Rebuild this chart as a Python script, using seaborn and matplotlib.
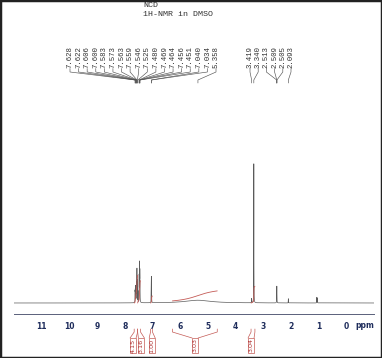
import numpy as np
import pandas as pd
import matplotlib
matplotlib.use("Agg")
import matplotlib.pyplot as plt
import seaborn as sns
from matplotlib.patches import Rectangle
from matplotlib.ticker import MultipleLocator

# ---------------- data ----------------
title = "NCD"
subtitle = "1H-NMR in DMSO"

# labelled peaks, left group (aromatic + broad)
left_ppm = [7.628, 7.622, 7.606, 7.600, 7.583, 7.573, 7.563, 7.559, 7.546,
            7.525, 7.480, 7.469, 7.464, 7.456, 7.451, 7.040, 7.034, 5.358]
left_height = [0.07, 0.08, 0.10, 0.09, 0.08, 0.12, 0.16, 0.17, 0.15,
               0.08, 0.18, 0.22, 0.20, 0.17, 0.14, 0.16, 0.15, 0.02]
left_hwhm = [0.003] * 17 + [0.55]

# labelled peaks, right group
right_ppm = [3.419, 3.340, 2.513, 2.509, 2.505, 2.093]
right_height = [0.03, 1.00, 0.04, 0.09, 0.045, 0.03]
right_hwhm = [0.003] * 6

# unlabelled small peaks
extra_ppm = [1.065, 1.045]
extra_height = [0.04, 0.035]
extra_hwhm = [0.003, 0.003]

# integrals
int_start = [7.66, 7.535, 7.07, 6.28, 3.44]
int_end = [7.535, 7.43, 7.00, 4.66, 3.30]
int_value = ["4.15", "3.16", "1.00", "3.03", "3.04"]
int_rise = [0.20, 0.16, 0.05, 0.072, 0.12]   # drawn height of each integral curve
int_base = [0.0, 0.0, 0.0, 0.015, 0.0]

# ---------------- build spectrum ----------------
all_ppm = np.array(left_ppm + right_ppm + extra_ppm)
all_h = np.array(left_height + right_height + extra_height)
all_w = np.array(left_hwhm + right_hwhm + extra_hwhm)

grid = np.arange(-1.0, 12.0, 0.0005)
spec = np.zeros_like(grid)
for p, h, w in zip(all_ppm, all_h, all_w):
    spec += h * w**2 / ((grid - p) ** 2 + w**2)
df = pd.DataFrame({"ppm": grid, "intensity": spec})

# ---------------- figure ----------------
sns.set_style("white")
plt.rcParams["font.family"] = ["DejaVu Sans"]

W, H = 382, 358
fig = plt.figure(figsize=(W / 100, H / 100), dpi=100)
fig.patch.set_facecolor("white")

ax_l = 14 / W
ax_w = 360 / W
ax = fig.add_axes([ax_l, (H - 314) / H, ax_w, 214 / H])
sns.lineplot(data=df, x="ppm", y="intensity", ax=ax, color="#5a5a5a",
             linewidth=0.5, estimator=None, sort=False)
ax.set_xlim(12, -1)
ax.set_ylim(-11 / 139, 203 / 139)
ax.set_xlabel("")
ax.set_ylabel("")
ax.set_yticks([])
for s in ["left", "top", "right"]:
    ax.spines[s].set_visible(False)
ax.spines["bottom"].set_color("#59607a")
ax.spines["bottom"].set_linewidth(0.7)

# integral curves
for a, b, r, base in zip(int_start, int_end, int_rise, int_base):
    m = (grid <= a) & (grid >= b)
    g = grid[m][::-1]
    s = spec[m][::-1]
    c = np.cumsum(s)
    c = c / c[-1]
    ax.plot(g, base + r * c, color="#c45a55", linewidth=0.6)

ticks = list(range(-1, 13))
ax.set_xticks(ticks)
ax.set_xticklabels(["" if t in (-1, 12) else str(t) for t in ticks])
ax.xaxis.set_minor_locator(MultipleLocator(0.1))
ax.tick_params(axis="x", which="major", length=3.5, width=0.6, color="#59607a",
               labelsize=5.5, labelcolor="#1f2d5c", pad=2.5)
ax.tick_params(axis="x", which="minor", length=1.8, width=0.4, color="#59607a")
for lab in ax.get_xticklabels():
    lab.set_fontweight("bold")

# overlay axes in ppm (x) / pixel (y) units for annotations
ov = fig.add_axes([ax_l, 0, ax_w, 1])
ov.set_xlim(12, -1)
ov.set_ylim(H, 0)
ov.axis("off")
ov.patch.set_alpha(0)

ov.text(-0.675, 325, "ppm", ha="center", va="center", fontsize=5.5,
        fontweight="bold", color="#1f2d5c")

# peak labels
ppm_per_px = 13 / 360.0
def spread(n, first_px, last_px):
    xs = np.linspace(first_px, last_px, n)
    return 12 - (xs - 14) * ppm_per_px

groups = [(left_ppm, spread(len(left_ppm), 70, 216)),
          (right_ppm, spread(len(right_ppm), 250, 291))]
for ppms, lxs in groups:
    for p, lx in zip(ppms, lxs):
        ov.plot([lx, lx, p, p], [68.5, 72, 80, 83], color="#555555", lw=0.45)
        ov.text(lx, 68, f"{p:.3f}", rotation=90, ha="center", va="bottom",
                fontsize=5.3, family="Liberation Mono", color="#333333")

# integral brackets and boxes
box_px = 6
box_w = box_px * ppm_per_px
label_ppm = [7.70, 7.40, 7.01, 5.46, 3.44]
for a, b, v, lp in zip(int_start, int_end, int_value, label_ppm):
    ov.plot([a, a, lp + box_w / 2], [329, 332, 338], color="#c45a55", lw=0.5)
    ov.plot([b, b, lp - box_w / 2], [329, 332, 338], color="#c45a55", lw=0.5)
    ov.add_patch(Rectangle((lp - box_w / 2, 338), box_w, 15, fill=False,
                           edgecolor="#c45a55", lw=0.5))
    ov.text(lp, 345.5, v, rotation=90, ha="center", va="center",
            fontsize=4.6, color="#b03030")

# title
fig.text(143 / W, 1 - 2 / H, title, ha="left", va="top", fontsize=6,
         family="Liberation Mono", color="#333333")
fig.text(143 / W, 1 - 10.5 / H, subtitle, ha="left", va="top", fontsize=6,
         family="Liberation Mono", color="#333333")

# frame
fig.add_artist(Rectangle((0, 0), 1, 1, transform=fig.transFigure, fill=False,
                         edgecolor="#222222", lw=2.5))

fig.savefig("out.png", dpi=100)
